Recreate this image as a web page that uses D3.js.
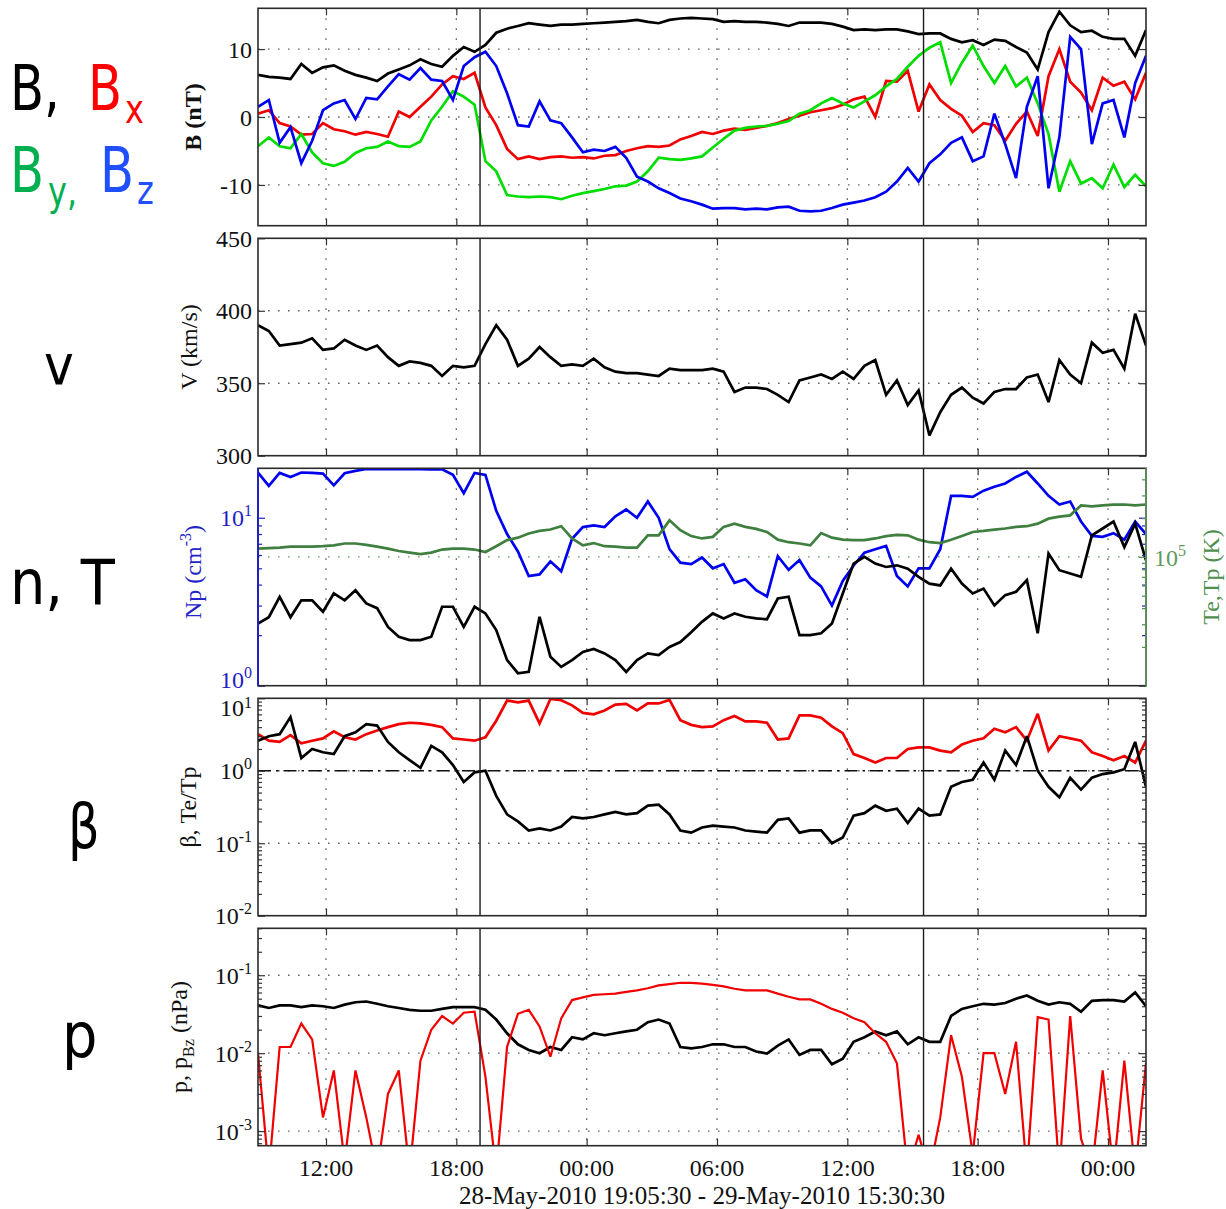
<!DOCTYPE html>
<meta charset="utf-8">
<svg width="1226" height="1209"></svg>
<script src="https://d3js.org/d3.v7.min.js"></script>
<style>
  body { margin: 0; background: #fff; }
  text { font-family: "Liberation Serif", "Times New Roman", serif; }
  .grid line { stroke: #666; stroke-width: 1.3px; stroke-dasharray: 1.6,8.4; }
  .frame { fill: none; stroke: #2a2a2a; stroke-width: 1.6px; }
  .series { fill: none; stroke-width: 2.7px; stroke-linejoin: miter; stroke-miterlimit: 3; }
  .event { stroke: #1a1a1a; stroke-width: 1.4px; }
  .ticks path { display: none; }
  .ticks line { stroke: #333; stroke-width: 1.2px; }
  .tag { font-family: "DejaVu Sans", sans-serif; }
</style>
<script>
// samples every ~30 min, 28-May 08:52 UT to 30-May 01:45 UT
var startHour = 8.87, endHour = 49.75, nSamples = 83;
var eventHours = [19.0917, 39.5083]; // 28-May 19:05:30, 29-May 15:30:30

// panel 1: |B|, Bx, By, Bz (nT)
var bTotal = [6.2, 5.9, 5.8, 5.6, 7.8, 6.5, 7.3, 7.6, 6.8, 6.2,
  5.8, 5.3, 6.4, 7.0, 7.6, 8.5, 7.8, 7.4, 9.0, 10.3,
  9.6, 10.6, 12.4, 13.0, 13.4, 13.8, 13.6, 13.4, 13.6, 13.6,
  13.7, 13.8, 13.9, 14.0, 14.1, 14.3, 14.0, 13.8, 14.3, 14.5,
  14.6, 14.5, 14.4, 14.0, 14.1, 14.0, 14.0, 13.9, 13.7, 13.4,
  13.9, 13.9, 13.9, 13.7, 13.3, 12.8, 12.9, 12.8, 12.9, 12.9,
  12.6, 12.2, 12.3, 12.3, 11.5, 11.0, 11.3, 10.6, 11.4, 11.2,
  10.3, 9.5, 7.0, 12.5, 15.5, 13.5, 12.5, 12.7, 11.8, 11.5,
  11.5, 9.0, 12.8];
var bX = [0.5, 1.0, -0.9, -1.4, -2.6, -2.5, -0.9, -1.8, -2.1, -2.6,
  -2.2, -2.5, -2.9, 0.8, 0.0, 1.5, 3.0, 4.8, 6.0, 5.6,
  6.5, 1.4, -1.2, -4.7, -6.2, -5.8, -6.2, -5.9, -5.8, -6.0,
  -5.9, -6.1, -5.7, -5.6, -5.0, -4.6, -4.3, -4.4, -4.2, -3.3,
  -2.8, -2.2, -2.5, -2.0, -1.7, -1.9, -1.6, -1.3, -0.9, -0.3,
  0.2, 0.7, 1.0, 1.3, 1.8, 2.6, 3.0, 0.0, 5.3, 5.2,
  6.8, 0.8, 4.8, 2.5, 1.2, 0.2, -2.2, -0.9, -1.2, -3.5,
  -1.0, 0.8, -2.8, 6.0, 10.0, 5.2, 3.6, 1.0, 5.8, 4.6,
  5.2, 2.6, 6.5];
var bY = [-4.3, -3.0, -4.3, -4.6, -2.5, -5.2, -6.8, -7.2, -6.6, -5.3,
  -4.6, -4.4, -3.6, -4.3, -4.4, -3.6, -0.5, 1.5, 3.8, 3.0,
  1.8, -6.5, -8.0, -11.5, -11.7, -11.8, -11.7, -11.8, -12.1, -11.6,
  -11.2, -10.9, -10.6, -10.2, -10.1, -9.5, -8.0, -6.0, -6.2, -6.3,
  -6.1, -5.8, -4.5, -3.2, -2.0, -1.6, -1.4, -1.3, -1.0, -0.6,
  0.5, 1.0, 2.0, 2.8, 2.0, 1.4, 2.3, 3.2, 4.5, 5.6,
  7.4, 9.0, 10.2, 11.0, 5.0, 8.0, 10.5, 7.5, 5.0, 7.5,
  4.5, 5.8, 2.0, -2.5, -11.0, -6.5, -9.8, -9.0, -10.5, -7.0,
  -10.3, -8.5, -10.2];
var bZ = [1.5, 2.5, -3.8, -1.5, -6.8, -3.5, 1.0, 2.0, 2.5, -0.3,
  2.8, 2.6, 4.5, 6.3, 5.5, 7.2, 5.5, 5.3, 2.5, 7.5,
  8.8, 9.6, 7.5, 3.5, -1.2, -1.4, 2.3, -0.5, -0.9, -3.0,
  -5.2, -4.8, -5.0, -4.4, -6.0, -8.8, -9.5, -10.5, -11.2, -12.0,
  -12.4, -12.9, -13.5, -13.4, -13.4, -13.6, -13.5, -13.6, -13.3, -13.2,
  -13.8, -13.9, -13.8, -13.4, -12.9, -12.6, -12.3, -11.8, -11.0, -9.5,
  -7.5, -9.5, -6.8, -5.5, -3.8, -3.0, -6.5, -5.8, 0.5, -4.0,
  -9.0, 1.5, 6.0, -10.5, -3.0, 11.8, 10.0, -4.0, 2.0, 2.5,
  -3.0, 5.0, 9.0];

// panel 2: V (km/s)
var speed = [390, 386, 376, 377, 378, 381, 373, 374, 380, 376,
  373, 376, 368, 362, 365, 364, 362, 355, 362, 361,
  362, 377, 390, 380, 362, 367, 375, 368, 362, 363,
  362, 367, 361, 358, 357, 357, 356, 355, 360, 359,
  359, 359, 360, 358, 344, 347, 347, 346, 342, 337,
  352, 354, 356, 353, 358, 353, 362, 366, 342, 352,
  335, 345, 314, 330, 342, 347, 340, 336, 344, 346,
  346, 354, 356, 337, 366, 356, 350, 378, 371, 373,
  360, 398, 376];

// panel 3: Np (cm^-3), Te and Tp (10^3 K)
var np = [18.6, 15.5, 18.5, 17.5, 18.6, 18.5, 18.3, 15.6, 18.4, 19.0,
  19.5, 19.5, 19.5, 19.5, 19.5, 19.5, 19.4, 19.4, 18.0, 14.0,
  18.5, 18.0, 11.0, 8.0, 6.3, 4.5, 4.6, 5.5, 4.8, 7.5,
  8.8, 9.0, 8.8, 10.2, 11.2, 10.0, 12.5, 10.0, 6.5, 5.4,
  5.3, 5.8, 5.0, 5.3, 4.1, 4.3, 3.7, 3.4, 5.9, 4.9,
  5.6, 4.4, 3.9, 3.0, 4.2, 5.2, 6.2, 6.5, 6.8, 4.5,
  3.9, 5.0, 5.0, 6.5, 13.5, 13.5, 13.3, 14.5, 15.3, 16.0,
  17.5, 18.8, 16.0, 13.5, 12.0, 12.5, 9.5, 7.8, 7.7, 8.1,
  7.4, 9.5, 8.0];
var tElectron = [116, 117, 118, 120, 120, 120, 121, 123, 127, 127,
  124, 120, 116, 111, 108, 105, 108, 114, 116, 116,
  114, 109, 121, 135, 141, 152, 159, 163, 173, 139,
  123, 128, 121, 120, 118, 118, 147, 147, 192, 161,
  145, 139, 143, 171, 181, 171, 165, 156, 136, 130,
  127, 123, 153, 141, 136, 135, 135, 139, 145, 148,
  147, 136, 130, 128, 136, 145, 156, 159, 163, 166,
  171, 173, 181, 198, 205, 210, 251, 247, 251, 254,
  255, 251, 255];
var tProton = [30.4, 34, 49, 34, 46, 46, 37.5, 52, 46, 55,
  43.5, 40, 28.6, 24, 22.6, 22.6, 24, 41, 41, 28.6,
  41, 36.4, 27, 15.8, 12.5, 12.8, 34.3, 16.8, 14, 15.8,
  18.3, 19.3, 17.8, 15.8, 12.8, 15.8, 17.8, 17.3, 20, 21.8,
  26, 31.3, 36.4, 33.3, 36.4, 34.3, 33.3, 32.8, 47.5, 49,
  24.7, 24.7, 25.5, 30.4, 52, 88.7, 100, 88.7, 83.5, 86,
  81, 70, 62, 60, 81, 62, 52, 56.7, 42, 50.5,
  53.6, 66, 25.5, 106, 78.8, 74.3, 70, 147, 166, 188,
  119, 181, 94];

// panel 4: plasma beta and Te/Tp
var beta = [2.6, 3.0, 3.2, 5.5, 1.5, 2.0, 1.8, 1.7, 3.0, 3.4,
  4.4, 4.2, 2.5, 1.8, 1.4, 1.1, 2.2, 1.8, 1.2, 0.7,
  0.95, 1.0, 0.45, 0.25, 0.2, 0.15, 0.16, 0.15, 0.17, 0.23,
  0.22, 0.23, 0.25, 0.27, 0.25, 0.26, 0.33, 0.34, 0.25, 0.15,
  0.14, 0.165, 0.175, 0.17, 0.165, 0.15, 0.145, 0.14, 0.21, 0.22,
  0.14, 0.15, 0.15, 0.10, 0.12, 0.24, 0.26, 0.33, 0.28, 0.30,
  0.19, 0.30, 0.24, 0.25, 0.6, 0.7, 0.75, 1.3, 0.75, 1.9,
  1.2, 3.0, 1.0, 0.6, 0.43, 0.8, 0.55, 0.8, 0.9, 0.95,
  1.05, 2.5, 0.6];
var teTp = [3.2, 2.6, 2.5, 3.1, 2.4, 2.6, 2.8, 3.5, 2.9, 2.7,
  3.2, 3.6, 4.0, 4.4, 4.6, 4.5, 4.3, 4.0, 2.8, 2.7,
  2.6, 2.9, 4.9, 9.3, 8.8, 9.3, 4.5, 9.8, 9.4, 8.0,
  6.3, 6.0, 6.8, 8.2, 8.4, 6.8, 8.5, 8.5, 9.5, 5.0,
  4.3, 4.0, 4.1, 5.0, 5.7, 4.8, 4.8, 4.6, 2.7, 2.8,
  5.8, 5.8, 5.4, 4.1, 3.3, 1.7, 1.5, 1.3, 1.5, 1.5,
  2.0, 2.1, 2.1, 1.9, 1.8, 2.3, 2.6, 2.8, 3.8, 3.4,
  4.0, 2.6, 6.1, 1.9, 3.0, 2.8, 2.6, 1.8, 1.6, 1.4,
  1.6, 1.3, 2.6];

// panel 5: total pressure and Bz pressure (nPa)
var pTotal = [0.041, 0.038, 0.041, 0.041, 0.039, 0.041, 0.040, 0.038, 0.042, 0.045,
  0.046, 0.043, 0.040, 0.038, 0.036, 0.035, 0.035, 0.037, 0.039, 0.039,
  0.039, 0.036, 0.027, 0.018, 0.013, 0.011, 0.010, 0.012, 0.011, 0.016,
  0.015, 0.018, 0.017, 0.018, 0.019, 0.020, 0.025, 0.027, 0.024, 0.012,
  0.0115, 0.012, 0.013, 0.013, 0.012, 0.012, 0.0105, 0.0099, 0.0125, 0.015,
  0.0095, 0.011, 0.011, 0.0072, 0.0085, 0.014, 0.016, 0.019, 0.017, 0.019,
  0.013, 0.016, 0.014, 0.014, 0.030, 0.037, 0.040, 0.043, 0.042, 0.044,
  0.050, 0.055, 0.047, 0.042, 0.045, 0.043, 0.034, 0.047, 0.048, 0.048,
  0.046, 0.060, 0.040];
var pBz = [0.0099, 0.0003, 0.012, 0.012, 0.024, 0.015, 0.0015, 0.006, 0.0004, 0.006,
  0.0015, 0.0003, 0.003, 0.006, 0.0003, 0.008, 0.020, 0.030, 0.024, 0.033,
  0.034, 0.005, 0.0003, 0.012, 0.032, 0.036, 0.022, 0.009, 0.028, 0.048,
  0.052, 0.056, 0.057, 0.058, 0.061, 0.064, 0.068, 0.074, 0.077, 0.080,
  0.080, 0.078, 0.075, 0.072, 0.067, 0.064, 0.064, 0.064, 0.058, 0.053,
  0.049, 0.049, 0.043, 0.037, 0.033, 0.028, 0.025, 0.018, 0.014, 0.0074,
  0.0003, 0.0009, 0.0003, 0.0015, 0.017, 0.005, 0.0005, 0.010, 0.010, 0.003,
  0.014, 0.0003, 0.029, 0.027, 0.0003, 0.030, 0.0008, 0.0003, 0.006, 0.0003,
  0.008, 0.0003, 0.0075];

var svg = d3.select("svg"),
    left = 258, plotW = 888, plotH = 217.4,
    tops = [8.3, 238.3, 468.3, 698.3, 928.3];

var hourToDate = function(h) { return new Date(Date.UTC(2010, 4, 28) + h * 3600e3); };
var times = d3.range(nSamples).map(function(i) {
  return hourToDate(startHour + i * (endHour - startHour) / (nSamples - 1));
});

var x = d3.scaleUtc()
    .domain([hourToDate(startHour), hourToDate(endHour)])
    .range([0, plotW]);
var timeTicks = x.ticks(d3.utcHour.every(6));

// log tick helper: majors are powers of ten, minors 2..9
function logTicks(scale) {
  var d = scale.domain(), out = {major: [], minor: []};
  for (var k = Math.floor(Math.log10(d[0])); k <= Math.ceil(Math.log10(d[1])); k++) {
    for (var m = 1; m < 10; m++) {
      var v = m * Math.pow(10, k);
      if (v < d[0] * 0.999 || v > d[1] * 1.001) continue;
      (m === 1 ? out.major : out.minor).push(v);
    }
  }
  return out;
}

function powText(sel, exp, sup) {
  sel.text("10").append("tspan").attr("dy", sup || -10).style("font-size", "16px").text(exp);
}

var panels = [
  {
    y: d3.scaleLinear().domain([-16, 16]).range([plotH, 0]),
    major: [-10, 0, 10], grid: [-10, 0, 10],
    series: [[bTotal, "#000"], [bX, "#f00000"], [bY, "#00dd00"], [bZ, "#0000f0"]]
  },
  {
    y: d3.scaleLinear().domain([300, 450]).range([plotH, 0]),
    major: [300, 350, 400, 450], grid: [350, 400],
    series: [[speed, "#000"]]
  },
  {
    y: d3.scaleLog().domain([1, 19.7]).range([plotH, 0]),
    y2: d3.scaleLog().domain([10, 487]).range([plotH, 0]),
    log: true, axisColor: "#1f1fc8", grid: [],
    labelShift: {1: -6},
    series: [[np, "#0000f0"]],
    series2: [[tElectron, "#3f7f3f"], [tProton, "#000"]]
  },
  {
    y: d3.scaleLog().domain([0.01, 10]).range([plotH, 0]),
    log: true, grid: [0.1, 1],
    labelShift: {10: 9},
    series: [[teTp, "#f00000"], [beta, "#000"]],
    dashdot: 1
  },
  {
    y: d3.scaleLog().domain([6.5e-4, 0.40]).range([plotH, 0]),
    log: true, grid: [0.001, 0.01, 0.1],
    series: [[pTotal, "#000"], [pBz, "#f00000", 2.2]]
  }
];

panels.forEach(function(p, pi) {
  var g = svg.append("g").attr("transform", "translate(" + left + "," + tops[pi] + ")");
  var clipId = "clip" + pi;
  g.append("clipPath").attr("id", clipId)
    .append("rect").attr("width", plotW).attr("height", plotH);

  // dotted grid
  var grid = g.append("g").attr("class", "grid");
  grid.selectAll(".gx").data(timeTicks).enter().append("line")
      .attr("x1", function(d) { return x(d); }).attr("x2", function(d) { return x(d); })
      .attr("y1", 0).attr("y2", plotH);
  grid.selectAll(".gy").data(p.grid).enter().append("line")
      .attr("x1", 0).attr("x2", plotW)
      .attr("y1", function(d) { return p.y(d); }).attr("y2", function(d) { return p.y(d); });
  if (p.y2) {
    grid.append("line").attr("x1", 0).attr("x2", plotW)
        .attr("y1", p.y2(100)).attr("y2", p.y2(100)).style("stroke", "#6a9a6a");
  }
  if (p.dashdot) {
    g.append("line").attr("x1", 0).attr("x2", plotW)
        .attr("y1", p.y(p.dashdot)).attr("y2", p.y(p.dashdot))
        .attr("stroke", "#111").attr("stroke-width", 1.4)
        .attr("stroke-dasharray", "13,5,2.5,5");
  }

  var lines = g.append("g").attr("clip-path", "url(#" + clipId + ")");
  function drawSeries(list, yScale) {
    list.forEach(function(s) {
      var line = d3.line()
          .x(function(d, i) { return x(times[i]); })
          .y(function(d) { return yScale(d); });
      lines.append("path").datum(s[0])
          .attr("class", "series")
          .attr("stroke", s[1])
          .style("stroke-width", s[2] || null)
          .attr("d", line);
    });
  }
  drawSeries(p.series, p.y);
  if (p.series2) drawSeries(p.series2, p.y2);

  // event lines
  g.selectAll(".event").data(eventHours).enter().append("line")
      .attr("class", "event")
      .attr("x1", function(d) { return x(hourToDate(d)); })
      .attr("x2", function(d) { return x(hourToDate(d)); })
      .attr("y1", 0).attr("y2", plotH);

  // tick marks, inward on all four sides
  var major, minor = [];
  if (p.log) {
    var lt = logTicks(p.y);
    major = lt.major; minor = lt.minor;
  } else {
    major = p.major;
  }
  var tickCol = p.axisColor || "#333";
  g.append("g").attr("class", "ticks").call(d3.axisRight(p.y).tickValues(major).tickSize(7).tickFormat(""))
    .selectAll("line").style("stroke", tickCol);
  g.append("g").attr("class", "ticks").call(d3.axisRight(p.y).tickValues(minor).tickSize(4).tickFormat(""))
    .selectAll("line").style("stroke", tickCol);
  g.append("g").attr("class", "ticks").attr("transform", "translate(" + plotW + ",0)")
    .call(d3.axisLeft(p.y).tickValues(major).tickSize(7).tickFormat(""))
    .selectAll("line").style("stroke", tickCol);
  g.append("g").attr("class", "ticks").attr("transform", "translate(" + plotW + ",0)")
    .call(d3.axisLeft(p.y).tickValues(minor).tickSize(4).tickFormat(""))
    .selectAll("line").style("stroke", tickCol);
  if (p.y2) {
    var lt2 = logTicks(p.y2);
    g.append("g").attr("class", "ticks").attr("transform", "translate(" + plotW + ",0)")
      .call(d3.axisLeft(p.y2).tickValues(lt2.major).tickSize(7).tickFormat(""))
      .selectAll("line").style("stroke", "#4f8f4f");
    g.append("g").attr("class", "ticks").attr("transform", "translate(" + plotW + ",0)")
      .call(d3.axisLeft(p.y2).tickValues(lt2.minor).tickSize(4).tickFormat(""))
      .selectAll("line").style("stroke", "#4f8f4f");
  }
  g.append("g").attr("class", "ticks")
    .call(d3.axisBottom(x).tickValues(timeTicks).tickSize(7).tickFormat(""));
  g.append("g").attr("class", "ticks").attr("transform", "translate(0," + plotH + ")")
    .call(d3.axisTop(x).tickValues(timeTicks).tickSize(7).tickFormat(""));

  // frame
  g.append("rect").attr("class", "frame").attr("width", plotW).attr("height", plotH);
  if (p.axisColor) {
    g.append("line").attr("x1", 0).attr("x2", 0).attr("y1", 0).attr("y2", plotH)
      .attr("stroke", p.axisColor).attr("stroke-width", 1.8);
    g.append("line").attr("x1", plotW).attr("x2", plotW).attr("y1", 0).attr("y2", plotH)
      .attr("stroke", "#5f8f5f").attr("stroke-width", 1.8);
  }

  // y tick labels (the two labels where panels 3 and 4 meet are nudged apart)
  var labels = g.append("g")
      .style("font-size", "24px")
      .attr("fill", p.axisColor || "#111")
      .attr("text-anchor", "end");
  major.forEach(function(v) {
    var shift = (p.labelShift && p.labelShift[v]) || 0;
    var t = labels.append("text").attr("x", -6).attr("y", p.y(v) + shift).attr("dy", "0.36em");
    if (p.log) powText(t, String(Math.round(Math.log10(v))), shift > 0 ? -8 : -10);
    else t.text(v);
  });
  if (p.y2) {
    var t5 = g.append("text").attr("x", plotW + 8).attr("y", p.y2(100)).attr("dy", "0.36em")
        .style("font-size", "24px").attr("fill", "#5f9a5f");
    powText(t5, "5");
  }
});

// time labels under the last panel
var bottom = tops[4] + plotH;
svg.append("g").attr("text-anchor", "middle").style("font-size", "24px").attr("fill", "#111")
  .selectAll("text").data(timeTicks).enter().append("text")
    .attr("x", function(d) { return left + x(d); })
    .attr("y", bottom + 30)
    .text(d3.utcFormat("%H:%M"));
svg.append("text")
    .attr("x", left + plotW / 2).attr("y", bottom + 58)
    .attr("text-anchor", "middle").style("font-size", "25px").attr("fill", "#111")
    .text("28-May-2010 19:05:30 - 29-May-2010 15:30:30");

// rotated y-axis titles
function yTitle(xPos, yPos, color, build) {
  var t = svg.append("text")
      .attr("transform", "translate(" + xPos + "," + yPos + ") rotate(-90)")
      .attr("text-anchor", "middle").style("font-size", "24px").attr("fill", color);
  build(t);
  return t;
}
yTitle(201, tops[0] + plotH / 2, "#111", function(t) { t.style("font-weight", "bold").text("B (nT)"); });
yTitle(197, tops[1] + plotH / 2, "#111", function(t) { t.text("V (km/s)"); });
yTitle(201, tops[2] + plotH / 2 - 5, "#2424c8", function(t) {
  t.text("Np (cm");
  t.append("tspan").attr("dy", -10).style("font-size", "16px").text("-3");
  t.append("tspan").attr("dy", 10).text(")");
});
yTitle(1219, tops[2] + plotH / 2, "#4f8f4f", function(t) { t.text("Te,Tp (K)"); });
yTitle(196, tops[3] + plotH / 2, "#111", function(t) { t.text("\u03b2, Te/Tp"); });
yTitle(187, tops[4] + plotH / 2, "#111", function(t) {
  t.text("p, p");
  t.append("tspan").attr("dy", 7).style("font-size", "16px").text("Bz");
  t.append("tspan").attr("dy", -7).text(" (nPa)");
});

// hand-lettered panel tags on the far left
function tag(txt, xPos, yPos, size, color, sx) {
  svg.append("text").attr("class", "tag")
      .attr("transform", "translate(" + xPos + "," + yPos + ") scale(" + (sx || 0.8) + ",1)")
      .style("font-size", size + "px").attr("fill", color).text(txt);
}
tag("B,", 10, 110, 62, "#000");
tag("B", 88, 110, 62, "#ff0000");
tag("x", 125, 123, 40, "#ff0000");
tag("B", 10, 192, 62, "#00b050");
tag("y,", 48, 205, 40, "#00b050");
tag("B", 100, 192, 62, "#1f4fff");
tag("z", 137, 204, 40, "#1f4fff");
tag("v", 44, 384, 56, "#000", 0.9);
tag("n, T", 10, 604, 62, "#000", 0.9);
tag("\u03b2", 68, 848, 62, "#000");
tag("p", 62, 1057, 62, "#000", 0.9);
</script>
